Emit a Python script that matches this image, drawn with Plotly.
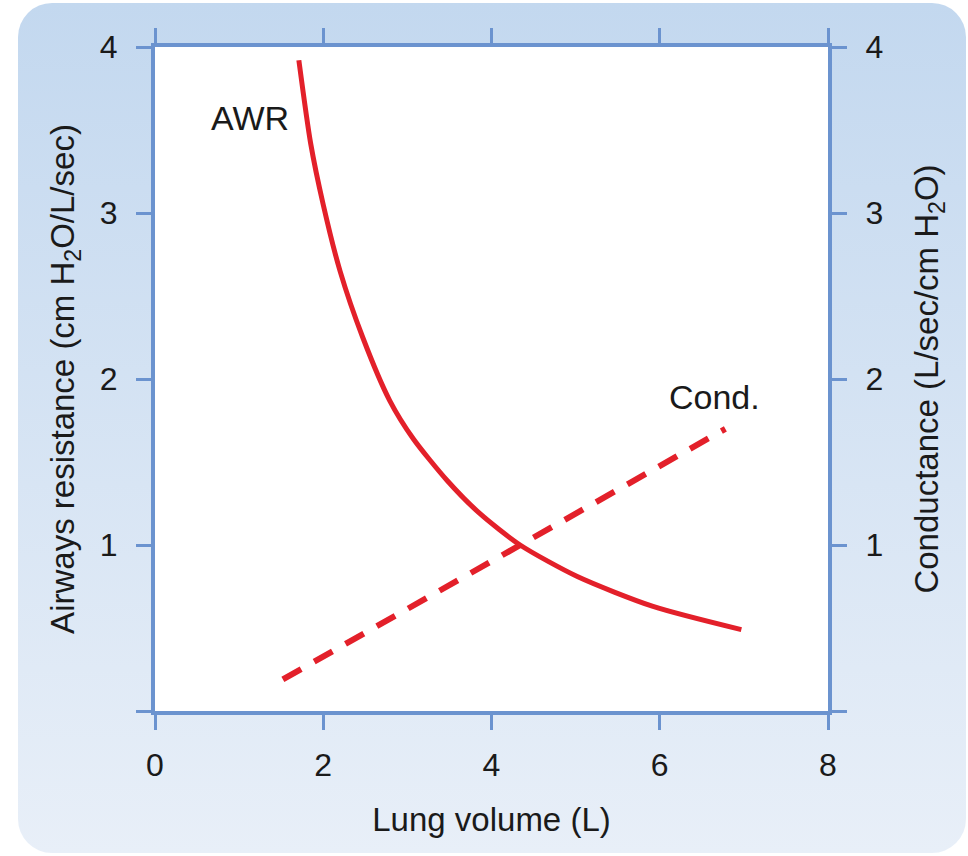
import base64
import plotly.graph_objects as go

# lung volume (L) vs airways resistance (cm H2O/L/sec)
awr_volume = [1.71, 1.85, 2.00, 2.20, 2.47, 2.79, 3.07, 3.47, 3.86, 4.34, 5.02, 5.92, 6.97]
awr_value = [3.92, 3.42, 3.05, 2.65, 2.25, 1.87, 1.64, 1.39, 1.19, 1.00, 0.81, 0.63, 0.49]

# lung volume (L) vs conductance (L/sec/cm H2O)
cond_volume = [1.52, 6.78]
cond_value = [0.19, 1.70]

x_ticks = [0, 2, 4, 6, 8]
y_ticks = [0, 1, 2, 3, 4]
y_labels = ['', '1', '2', '3', '4']

RED = '#e3202a'
AXIS = '#6b93cf'
TEXT = '#1a1a1a'
FONT = 'Liberation Sans, Arial, sans-serif'

# rounded card with a vertical blue gradient behind the plot
svg = ('<svg xmlns="http://www.w3.org/2000/svg" width="948" height="850" '
       'viewBox="0 0 948 850" preserveAspectRatio="none">'
       '<defs><linearGradient id="g" x1="0" y1="0" x2="0" y2="1">'
       '<stop offset="0" stop-color="#c3d8ef"/>'
       '<stop offset="1" stop-color="#e8eff8"/>'
       '</linearGradient></defs>'
       '<rect width="948" height="850" rx="34" ry="34" fill="url(#g)"/></svg>')
card = 'data:image/svg+xml;base64,' + base64.b64encode(svg.encode()).decode()

fig = go.Figure()

fig.add_trace(go.Scatter(x=awr_volume, y=awr_value, mode='lines',
                         line=dict(color=RED, width=5, shape='spline', smoothing=0.7),
                         hoverinfo='skip', showlegend=False))
fig.add_trace(go.Scatter(x=cond_volume, y=cond_value, mode='lines', yaxis='y2',
                         line=dict(color=RED, width=6, dash='21px,15px'),
                         hoverinfo='skip', showlegend=False))

fig.add_annotation(x=1.13, y=3.57, text='AWR', showarrow=False,
                   font=dict(size=34, color=TEXT, family=FONT))
fig.add_annotation(x=6.65, y=1.89, text='Cond.', showarrow=False,
                   font=dict(size=34, color=TEXT, family=FONT))

# white plot area on top of the card image
fig.add_shape(type='rect', xref='x', yref='y', x0=0, x1=8, y0=0, y1=4,
              fillcolor='white', line=dict(width=0), layer='below')

axis_common = dict(showline=True, linewidth=4, linecolor=AXIS, ticks='outside',
                   ticklen=15, tickwidth=3, tickcolor=AXIS, showgrid=False,
                   zeroline=False, automargin=False,
                   tickfont=dict(size=32, color=TEXT, family=FONT))

fig.update_layout(
    width=968, height=856,
    margin=dict(l=155, r=140, t=47, b=145),
    paper_bgcolor='white',
    plot_bgcolor='white',
    font=dict(family=FONT, color=TEXT),
    xaxis=dict(range=[0, 8], tickvals=x_ticks, mirror='ticks',
               ticklabelstandoff=8,
               title=dict(text='Lung volume (L)', font=dict(size=33), standoff=26),
               **axis_common),
    yaxis=dict(range=[0, 4], tickvals=y_ticks, ticktext=y_labels,
               ticklabelstandoff=12,
               title=dict(text='Airways resistance (cm H<sub>2</sub>O/L/sec)',
                          font=dict(size=33), standoff=16),
               **axis_common),
    yaxis2=dict(range=[0, 4], tickvals=y_ticks, ticktext=y_labels,
                overlaying='y', side='right', ticklabelstandoff=12,
                title=dict(text='Conductance (L/sec/cm H<sub>2</sub>O)',
                           font=dict(size=33), standoff=34),
                **axis_common),
    images=[dict(source=card, xref='paper', yref='paper',
                 x=(18 - 155) / 673, y=(711 - 3) / 664,
                 sizex=948 / 673, sizey=850 / 664,
                 xanchor='left', yanchor='top', sizing='stretch',
                 layer='below')],
)

fig.write_html('out.html', config={'displayModeBar': False},
               post_script="document.body.style.margin='0';")
